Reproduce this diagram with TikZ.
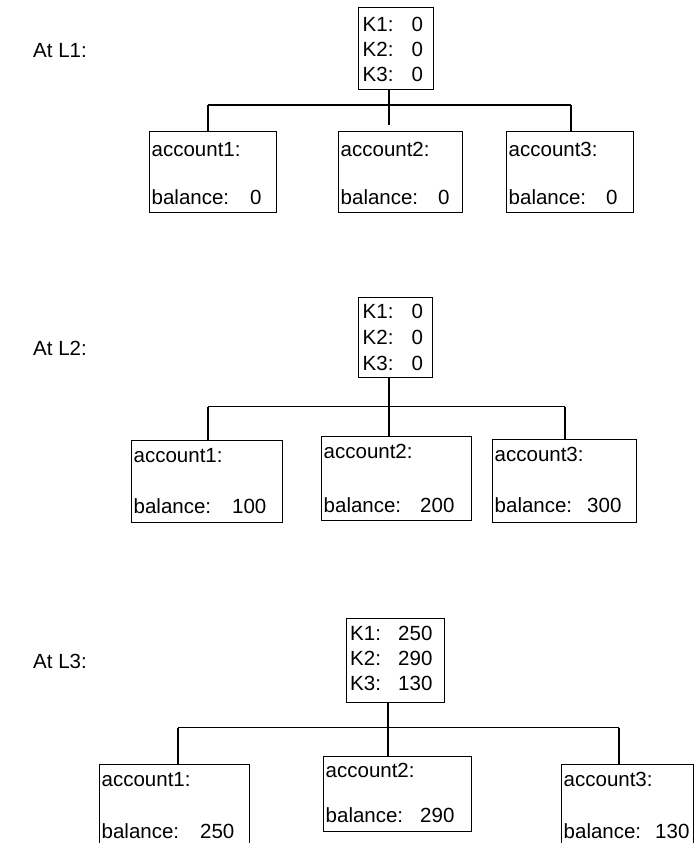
\documentclass[tikz,border=0pt]{standalone}
\usepackage{fontspec}
\setmainfont{Liberation Sans}
\begin{document}
\begin{tikzpicture}[x=1pt,y=-1pt,
  box/.style={draw, line width=1.1pt, inner sep=0pt, anchor=north west},
  txt/.style={inner sep=0pt, anchor=base west, font=\fontsize{20.5}{24}\selectfont},
  conn/.style={line width=1.1pt}]
\useasboundingbox (0,0) rectangle (694,843);
\clip (0,0) rectangle (694,843);

% ---------- Level 1 ----------
\node[txt] (lab1) at (33,58) {At L1:};
\node[box, minimum width=75pt, minimum height=82pt] (r1) at (358,7) {};
\node[txt] (r1k1) at (362.5,31.7) {K1:};  \node[txt] (r1v1) at (411.5,31.7) {0};
\node[txt] (r1k2) at (362.5,56.7) {K2:};  \node[txt] (r1v2) at (411.5,56.7) {0};
\node[txt] (r1k3) at (362.5,81.7) {K3:};  \node[txt] (r1v3) at (411.5,81.7) {0};

\node[box, minimum width=127pt, minimum height=81pt] (a11) at (149,131) {};
\node[txt] (a11n) at (151.5,156.5) {account1:};
\node[txt] (a11b) at (151.5,204) {balance:};
\node[txt] (a11v) at (250,204) {0};

\node[box, minimum width=124pt, minimum height=81pt] (a12) at (338,131) {};
\node[txt] (a12n) at (340.5,156.5) {account2:};
\node[txt] (a12b) at (340.5,204) {balance:};
\node[txt] (a12v) at (438,204) {0};

\node[box, minimum width=127pt, minimum height=81pt] (a13) at (506,131) {};
\node[txt] (a13n) at (508.5,156.5) {account3:};
\node[txt] (a13b) at (508.5,204) {balance:};
\node[txt] (a13v) at (606,204) {0};

\coordinate (b1l) at (208,105);
\coordinate (b1r) at (571,105);
\coordinate (b1c) at (389,125);
\draw[conn] (r1.south -| b1c) -- (b1c);
\draw[conn] (b1l) -- (b1r);
\draw[conn] (b1l) -- (b1l |- a11.north);
\draw[conn] (b1r) -- (b1r |- a13.north);

% ---------- Level 2 ----------
\node[txt] (lab2) at (33,355) {At L2:};
\node[box, minimum width=74pt, minimum height=80pt] (r2) at (358,297) {};
\node[txt] (r2k1) at (362.5,318.5) {K1:};  \node[txt] (r2v1) at (411.5,318.5) {0};
\node[txt] (r2k2) at (362.5,344.5) {K2:};  \node[txt] (r2v2) at (411.5,344.5) {0};
\node[txt] (r2k3) at (362.5,370.5) {K3:};  \node[txt] (r2v3) at (411.5,370.5) {0};

\node[box, minimum width=151pt, minimum height=82pt] (a21) at (131,440) {};
\node[txt] (a21n) at (133.5,462) {account1:};
\node[txt] (a21b) at (133.5,513.5) {balance:};
\node[txt] (a21v) at (232,513.5) {100};

\node[box, minimum width=150pt, minimum height=84pt] (a22) at (321,436) {};
\node[txt] (a22n) at (323.5,458.5) {account2:};
\node[txt] (a22b) at (323.5,512) {balance:};
\node[txt] (a22v) at (420,512) {200};

\node[box, minimum width=144pt, minimum height=83pt] (a23) at (492,439) {};
\node[txt] (a23n) at (494.5,461) {account3:};
\node[txt] (a23b) at (494.5,512) {balance:};
\node[txt] (a23v) at (587,512) {300};

\coordinate (b2l) at (208,406.5);
\coordinate (b2r) at (565,406.5);
\coordinate (b2c) at (389,406.5);
\draw[conn] (r2.south -| b2c) -- (b2c |- a22.north);
\draw[conn] (b2l) -- (b2r);
\draw[conn] (b2l) -- (b2l |- a21.north);
\draw[conn] (b2r) -- (b2r |- a23.north);

% ---------- Level 3 ----------
\node[txt] (lab3) at (33,668) {At L3:};
\node[box, minimum width=98pt, minimum height=84pt] (r3) at (346,618) {};
\node[txt] (r3k1) at (350,640) {K1:};  \node[txt] (r3v1) at (398,640) {250};
\node[txt] (r3k2) at (350,665) {K2:};  \node[txt] (r3v2) at (398,665) {290};
\node[txt] (r3k3) at (350,690) {K3:};  \node[txt] (r3v3) at (398,690) {130};

\node[box, minimum width=150pt, minimum height=95pt] (a31) at (99,764) {};
\node[txt] (a31n) at (101.5,786) {account1:};
\node[txt] (a31b) at (101.5,838.5) {balance:};
\node[txt] (a31v) at (200,838.5) {250};

\node[box, minimum width=148pt, minimum height=75pt] (a32) at (323,756) {};
\node[txt] (a32n) at (325.5,777.5) {account2:};
\node[txt] (a32b) at (325.5,822) {balance:};
\node[txt] (a32v) at (420,822) {290};

\node[box, minimum width=132pt, minimum height=95pt] (a33) at (561,764) {};
\node[txt] (a33n) at (563.5,786) {account3:};
\node[txt] (a33b) at (563.5,838.5) {balance:};
\node[txt] (a33v) at (655,838.5) {130};

\coordinate (b3l) at (178,727.5);
\coordinate (b3r) at (619,727.5);
\coordinate (b3c) at (388,727.5);
\draw[conn] (r3.south -| b3c) -- (b3c |- a32.north);
\draw[conn] (b3l) -- (b3r);
\draw[conn] (b3l) -- (b3l |- a31.north);
\draw[conn] (b3r) -- (b3r |- a33.north);
\end{tikzpicture}
\end{document}
